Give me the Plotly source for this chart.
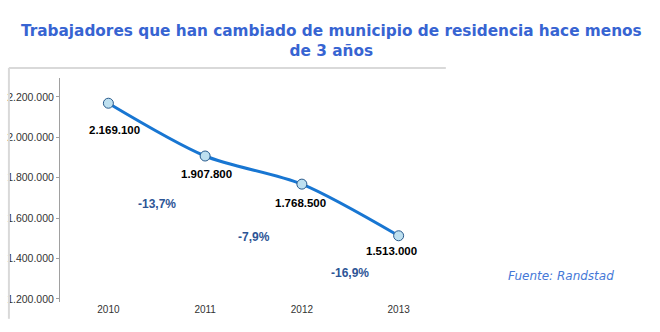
import plotly.graph_objects as go

years = ["2010", "2011", "2012", "2013"]
workers = [2169100, 1907800, 1768500, 1513000]
value_labels = ["2.169.100", "1.907.800", "1.768.500", "1.513.000"]
pct_labels = ["-13,7%", "-7,9%", "-16,9%"]
pct_x = [0.5, 1.5, 2.5]
pct_y = [1670000, 1507000, 1329000]
y_ticks = [1200000, 1400000, 1600000, 1800000, 2000000, 2200000]
y_tick_text = ["1.200.000", "1.400.000", "1.600.000", "1.800.000", "2.000.000", "2.200.000"]

x_idx = list(range(len(years)))

fig = go.Figure()
fig.add_trace(go.Scatter(
    x=x_idx, y=workers, mode="lines+markers",
    line=dict(color="rgb(24,118,210)", width=3, shape="spline", smoothing=0.8),
    marker=dict(size=10, color="rgb(190,224,240)", line=dict(color="rgb(40,90,140)", width=1)),
    hoverinfo="skip", showlegend=False,
))

label_shifts = [(6, -27), (1, -18), (-1, -19), (-7, -15)]
for i, (v, t) in enumerate(zip(workers, value_labels)):
    dx, dy = label_shifts[i]
    fig.add_annotation(x=x_idx[i], y=v, text=t, showarrow=False, xshift=dx, yshift=dy,
                       font=dict(family="Liberation Sans", size=11.5, color="black", weight="bold"))

for px, py, t in zip(pct_x, pct_y, pct_labels):
    fig.add_annotation(x=px, y=py, text=t, showarrow=False,
                       font=dict(family="Liberation Sans", size=12, color="rgb(45,85,150)", weight="bold"))

fig.add_annotation(xref="paper", yref="paper", x=1.295, y=0.075, text="Fuente: Randstad",
                   showarrow=False, xanchor="center",
                   font=dict(family="DejaVu Sans", size=12, color="rgb(70,120,215)", style="italic"))

# chart frame (top and left edges)
fig.add_shape(type="line", xref="paper", yref="paper", x0=-0.132, x1=0.997, y0=1.045, y1=1.045,
              line=dict(color="#d9d9d9", width=2))
fig.add_shape(type="line", xref="paper", yref="paper", x0=-0.132, x1=-0.132, y0=1.045, y1=-0.075,
              line=dict(color="#d9d9d9", width=2))

fig.update_layout(
    width=660, height=332,
    margin=dict(l=60, r=213, t=78, b=30, autoexpand=False),
    paper_bgcolor="white", plot_bgcolor="white",
    title=dict(text="Trabajadores que han cambiado de municipio de residencia hace menos<br>de 3 años",
               x=0.502, xref="container", xanchor="center", y=0.892, yref="container", yanchor="top",
               font=dict(family="DejaVu Sans", size=15.3, color="rgb(55,100,210)", weight="bold")),
    xaxis=dict(range=[-0.5, 3.5], tickvals=x_idx, ticktext=years, showgrid=False, zeroline=False,
               showline=False, ticks="", tickfont=dict(family="Liberation Sans", size=10, color="#333"),
               fixedrange=True, automargin=False),
    yaxis=dict(range=[1185000, 2294000], tickvals=y_ticks, ticktext=y_tick_text, showgrid=False,
               zeroline=False, showline=True, linecolor="#a0a0a0", linewidth=1,
               ticks="outside", ticklen=3, tickcolor="#a0a0a0",
               tickfont=dict(family="Liberation Sans", size=10.5, color="#333"), fixedrange=True,
               automargin=False),
)
fig.write_html("out.html")
